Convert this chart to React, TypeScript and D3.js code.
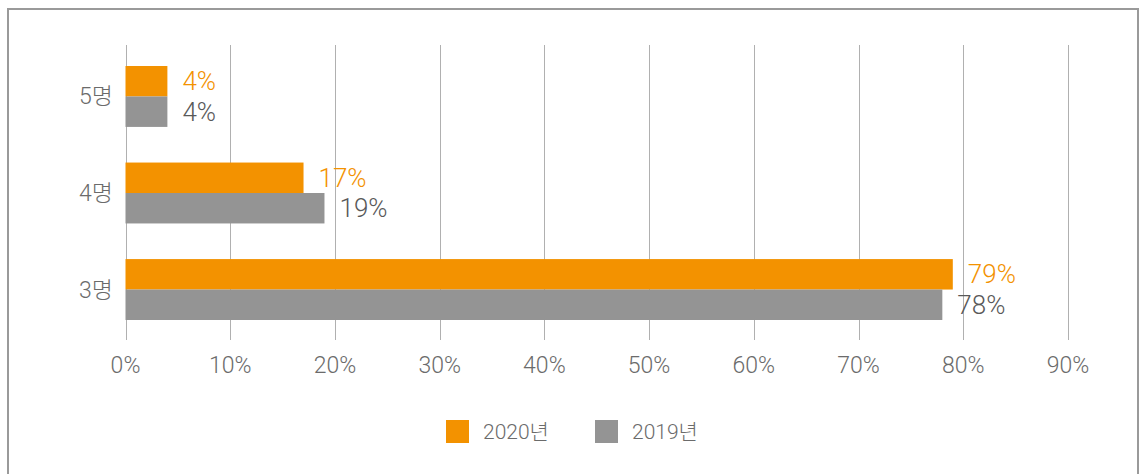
import React from "react";
import * as d3 from "d3";

const categories = ["5명", "4명", "3명"];
const series2020 = [4, 17, 79];
const series2019 = [4, 19, 78];
const seriesNames = ["2020년", "2019년"];
const xTicks = [0, 10, 20, 30, 40, 50, 60, 70, 80, 90];

const ORANGE = "#F39200";
const GRAY = "#949494";
const FONT = "Roboto, 'Noto Sans CJK KR', sans-serif";

export default function App() {
  const W = 1141, H = 474;
  const x = d3.scaleLinear().domain([0, 90]).range([125.5, 1068]);
  const y = d3.scaleBand<string>().domain(categories).range([46.7, 339.3]).paddingInner(0.369).paddingOuter(0.2);
  const bh = y.bandwidth() / 2;
  const series = [series2020, series2019];
  const colors = [ORANGE, GRAY];
  const labelColors = [ORANGE, "#595959"];
  return (
    <svg width={W} height={H} style={{ position: "absolute", left: 0, top: 0, background: "#fff" }} fontFamily={FONT} fontWeight={300}>
      <rect x={8} y={9} width={1130} height={480} fill="none" stroke="#9a9a9a" strokeWidth={2} />
      {xTicks.map((t) => (
        <g key={t}>
          <line x1={Math.round(x(t)) + 0.5} x2={Math.round(x(t)) + 0.5} y1={45} y2={340} stroke="#b0b0b0" strokeWidth={1} />
          <text x={x(t)} y={373} textAnchor="middle" fontSize={23} fill="#6b6b6b">{t}%</text>
        </g>
      ))}
      {categories.map((c, i) => (
        <g key={c}>
          <text x={113} y={(y(c) as number) + bh + 8} textAnchor="end" fontSize={23} fill="#6b6b6b">{c}</text>
          {series.map((s, k) => {
            const y0 = (y(c) as number) + k * bh;
            return (
              <g key={k}>
                <rect x={x(0)} y={y0} width={x(s[i]) - x(0)} height={bh} fill={colors[k]} />
                <text x={x(s[i]) + 15} y={y0 + bh / 2 + 9} fontSize={26} fill={labelColors[k]}>{s[i]}%</text>
              </g>
            );
          })}
        </g>
      ))}
      {seriesNames.map((n, k) => {
        const lx = 446 + k * 149;
        return (
          <g key={n}>
            <rect x={lx} y={420} width={23} height={23} fill={colors[k]} />
            <text x={lx + 37} y={439} fontSize={21} fill="#6b6b6b">{n}</text>
          </g>
        );
      })}
    </svg>
  );
}
